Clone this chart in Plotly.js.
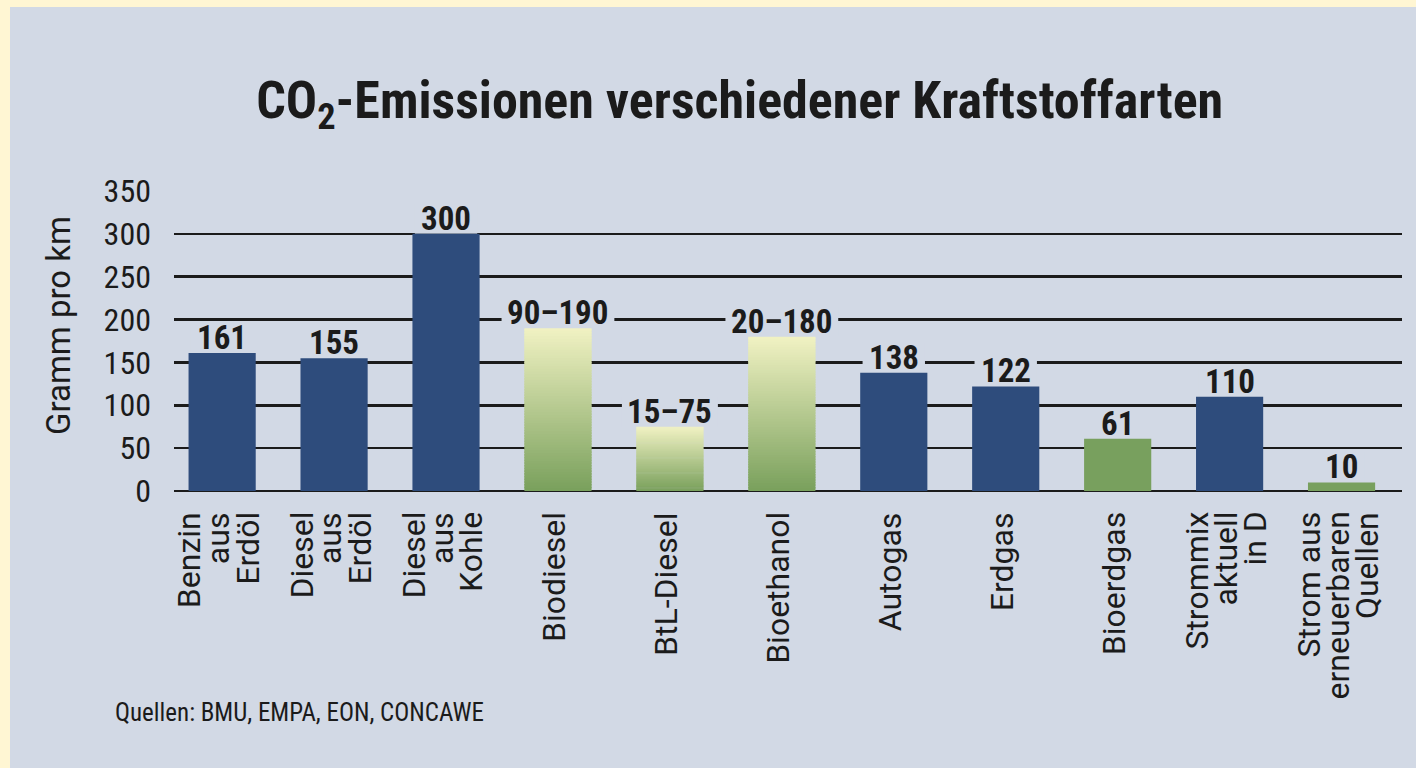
<!DOCTYPE html>
<html><head><meta charset="utf-8">
<script src="https://cdn.plot.ly/plotly-3.0.1.min.js"></script>
<style>
html,body{margin:0;padding:0;background:#FFF6D3;width:1416px;height:768px;overflow:hidden;}
#chart{position:absolute;left:10px;top:7px;width:1406px;height:761px;}
</style></head>
<body>
<div id="chart"></div>
<script>
// ---- data ----
const categories = ["Benzin<br>aus<br>Erdöl", "Diesel<br>aus<br>Erdöl", "Diesel<br>aus<br>Kohle", "Biodiesel", "BtL-Diesel", "Bioethanol", "Autogas", "Erdgas", "Bioerdgas", "Strommix<br>aktuell<br>in D", "Strom aus<br>erneuerbaren<br>Quellen"];
const emissionsHigh = [161, 155, 300, 190, 75, 180, 138, 122, 61, 110, 10];
const emissionsLow  = [null, null, null, 90, 15, 20, null, null, null, null, null];
const fuelGroup = ["fossil", "fossil", "fossil", "bioRange", "bioRange", "bioRange", "fossil", "fossil", "bio", "fossil", "bio"];
const yTicks = [0, 50, 100, 150, 200, 250, 300, 350];
const titleText = "CO<sub>2</sub>-Emissionen verschiedener Kraftstoffarten";
const yTitle = "Gramm pro km";
const sourceText = "Quellen: BMU, EMPA, EON, CONCAWE";

// ---- styles ----
const PANEL = "#D2D9E5";
const NAVY = "#2E4C7C";
const GREEN = "#78A05E";
const GRAD_BOTTOM = [121, 160, 92];
const GRAD_TOP = [241, 242, 195];
const TXT = "#1b1b1b";
const FONT_C = "Roboto Condensed, Roboto, sans-serif";
const FONT_R = "Roboto, sans-serif";
const BAR_W = 0.6;
const NSEG = 60;

const traces = [];
// solid bars
const solidIdx = categories.map((c, i) => i).filter(i => fuelGroup[i] !== "bioRange");
traces.push({
  type: "bar",
  x: solidIdx.map(i => categories[i]),
  y: solidIdx.map(i => emissionsHigh[i]),
  width: BAR_W,
  marker: {color: solidIdx.map(i => fuelGroup[i] === "fossil" ? NAVY : GREEN), line: {width: 0}},
  hoverinfo: "skip", showlegend: false
});
// gradient bars (green at bottom to pale yellow at top)
const gradIdx = categories.map((c, i) => i).filter(i => fuelGroup[i] === "bioRange");
for (let k = 0; k < NSEG; k++) {
  const t = (k + 0.5) / NSEG;
  const col = "rgb(" + GRAD_BOTTOM.map((b, j) => Math.round(b + (GRAD_TOP[j] - b) * t)).join(",") + ")";
  traces.push({
    type: "bar",
    x: gradIdx.map(i => categories[i]),
    base: gradIdx.map(i => emissionsHigh[i] * k / NSEG),
    y: gradIdx.map(i => Math.min(emissionsHigh[i] * 1.6 / NSEG, emissionsHigh[i] * (NSEG - k) / NSEG)),
    width: BAR_W,
    marker: {color: col, line: {width: 0}},
    hoverinfo: "skip", showlegend: false
  });
}

const annotations = [];
const shapes = [];
const valueText = categories.map((c, i) =>
  emissionsLow[i] !== null ? emissionsLow[i] + "–" + emissionsHigh[i] : String(emissionsHigh[i]));
categories.forEach((c, i) => {
  // panel-coloured box behind the label that interrupts the gridlines
  const halfW = valueText[i].length * 8.4 + 6;
  shapes.push({
    type: "rect", layer: "between",
    xref: "x", xsizemode: "pixel", xanchor: c, x0: -halfW, x1: halfW,
    yref: "y", ysizemode: "pixel", yanchor: emissionsHigh[i], y0: 0, y1: 30,
    fillcolor: PANEL, line: {width: 0}
  });
  annotations.push({
    x: c, y: emissionsHigh[i], xref: "x", yref: "y",
    xanchor: "center", yanchor: "bottom", yshift: -5,
    text: "<b>" + valueText[i] + "</b>", showarrow: false,
    font: {family: FONT_C, size: 33, color: TXT}, borderpad: 0
  });
});
// category labels, one annotation per line (tight line spacing)
const LINE_STEP = 29;
categories.forEach((c, i) => {
  const lines = c.split("<br>");
  lines.forEach((ln, j) => {
    annotations.push({
      x: c, y: 0, xref: "x", yref: "paper",
      xanchor: "center", yanchor: "top",
      xshift: (j - (lines.length - 1) / 2) * LINE_STEP - 4, yshift: -20,
      textangle: -90, text: ln, showarrow: false,
      font: {family: FONT_R, size: 32, color: TXT}, borderpad: 0
    });
  });
});
// y axis title
annotations.push({
  x: -0.0945, y: 0.553, xref: "paper", yref: "paper",
  xanchor: "center", yanchor: "middle", textangle: -90,
  text: yTitle, showarrow: false, font: {family: FONT_R, size: 33, color: TXT}
});
// source
annotations.push({
  x: -0.0497, y: -0.737, xref: "paper", yref: "paper",
  xanchor: "left", yanchor: "middle",
  text: sourceText, showarrow: false, font: {family: FONT_C, size: 25, color: TXT}
});

const layout = {
  width: 1406, height: 761,
  paper_bgcolor: PANEL, plot_bgcolor: PANEL,
  margin: {l: 164, r: 14, t: 184, b: 277},
  barmode: "overlay",
  showlegend: false,
  title: {
    text: "<b>" + titleText + "</b>",
    xref: "container", yref: "container", x: 0.519, y: 0.878,
    xanchor: "center", yanchor: "middle",
    font: {family: FONT_C, size: 52, color: TXT}
  },
  xaxis: {
    type: "category", categoryorder: "array", categoryarray: categories,
    range: [-0.43, 10.54], showticklabels: false, showgrid: false,
    zeroline: false, showline: false, ticks: "", fixedrange: true
  },
  yaxis: {
    range: [0, 350], tickvals: yTicks, ticktext: yTicks.map(String),
    showgrid: true, gridcolor: "#1b1b1b", gridwidth: 2.5,
    zeroline: true, zerolinecolor: "#1b1b1b", zerolinewidth: 2.5,
    showline: false, ticks: "", ticklabelstandoff: 22,
    tickfont: {family: FONT_C, size: 32, color: TXT}, fixedrange: true
  },
  shapes: shapes,
  annotations: annotations
};

Plotly.newPlot("chart", traces, layout, {displayModeBar: false, staticPlot: true});
</script>
</body></html>
